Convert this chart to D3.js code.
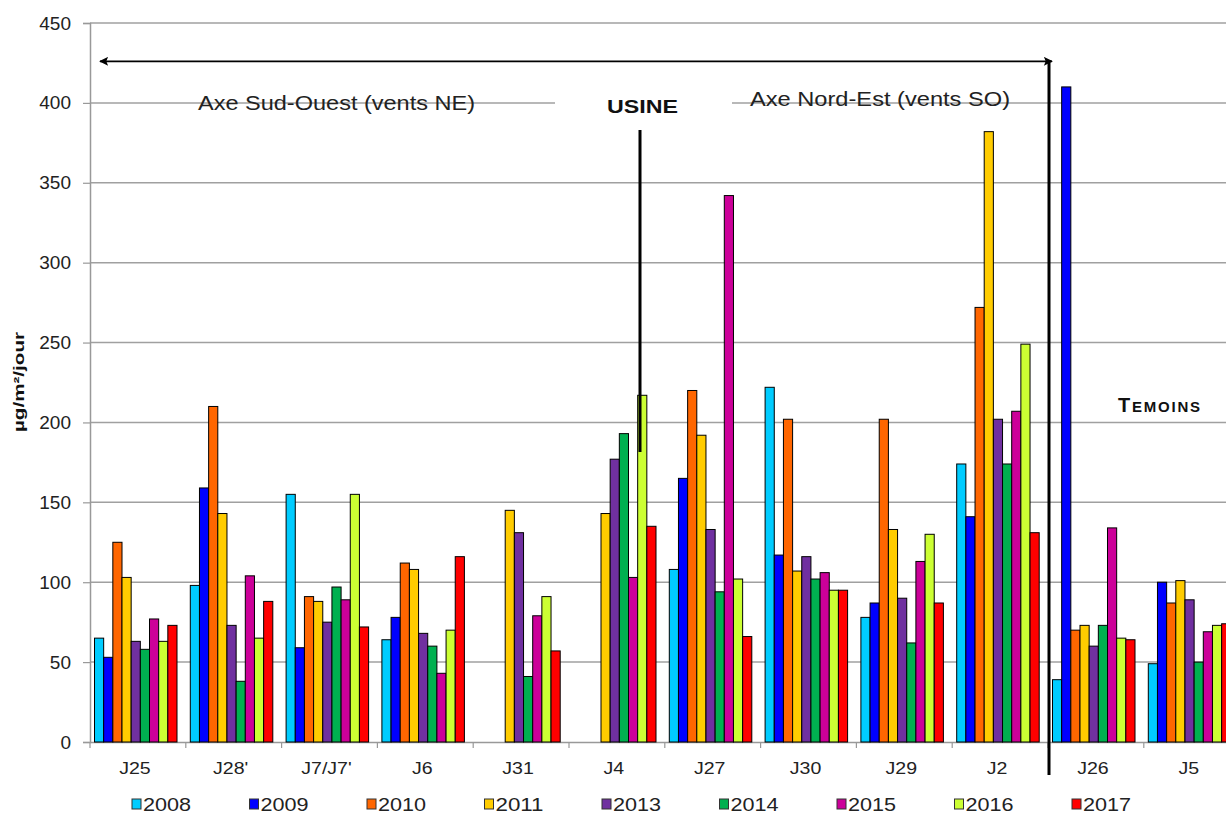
<!DOCTYPE html>
<html><head><meta charset="utf-8">
<script src="https://cdn.jsdelivr.net/npm/d3@7"></script>
<style>body{margin:0;background:#fff;overflow:hidden}svg{display:block}text{font-family:"Liberation Sans",Arial,sans-serif}</style>
</head><body><svg id="c" width="1226" height="814"></svg>
<script>
const categories = ["J25","J28'","J7/J7'","J6","J31","J4","J27","J30","J29","J2","J26","J5"];
const years = ["2008","2009","2010","2011","2013","2014","2015","2016","2017"];
const colors = ["#00CCFF","#0000FF","#FF6600","#FFCC00","#7030A0","#00B050","#CC0099","#CCFF33","#FF0000"];
const v2008 = [65, 98, 155, 64, null, null, 108, 222, 78, 174, 39, 49];
const v2009 = [53, 159, 59, 78, null, null, 165, 117, 87, 141, 410, 100];
const v2010 = [125, 210, 91, 112, null, null, 220, 202, 202, 272, 70, 87];
const v2011 = [103, 143, 88, 108, 145, 143, 192, 107, 133, 382, 73, 101];
const v2013 = [63, 73, 75, 68, 131, 177, 133, 116, 90, 202, 60, 89];
const v2014 = [58, 38, 97, 60, 41, 193, 94, 102, 62, 174, 73, 50];
const v2015 = [77, 104, 89, 43, 79, 103, 342, 106, 113, 207, 134, 69];
const v2016 = [63, 65, 155, 70, 91, 217, 102, 95, 130, 249, 65, 73];
const v2017 = [73, 88, 72, 116, 57, 135, 66, 95, 87, 131, 64, 74];
const series = [v2008,v2009,v2010,v2011,v2013,v2014,v2015,v2016,v2017];
const yTicks = [0,50,100,150,200,250,300,350,400,450];

const svg = d3.select("#c");
const plotLeft = 90, plotBottom = 742, plotTop = 23, groupW = 95.8;
const x0 = d3.scaleBand().domain(categories).range([plotLeft, plotLeft + groupW*categories.length]).padding(0);
const x1 = d3.scaleBand().domain(years).range([4.5, 87]).padding(0);
const y = d3.scaleLinear().domain([0,450]).range([plotBottom, plotTop]);

// gridlines
svg.append("g").selectAll("line").data(yTicks.filter(d=>d>0)).join("line")
  .attr("x1", plotLeft).attr("x2", 1226).attr("y1", d=>y(d)).attr("y2", d=>y(d))
  .attr("stroke","#a0a0a0").attr("stroke-width",1.5);

// y axis
const ya = svg.append("g").attr("transform",`translate(${plotLeft},0)`)
  .call(d3.axisLeft(y).tickValues(yTicks).tickSize(7).tickPadding(12));
ya.select(".domain").attr("stroke","#999").attr("stroke-width",1.5);
ya.selectAll(".tick line").attr("stroke","#999").attr("stroke-width",1.2);
ya.selectAll(".tick text").attr("font-size",19).attr("fill","#222").attr("font-family","Liberation Sans, Arial, sans-serif");

// x axis
const xa = svg.append("g").attr("transform",`translate(0,${plotBottom})`)
  .call(d3.axisBottom(x0).tickSize(0).tickPadding(20));
xa.select(".domain").attr("stroke","#999").attr("stroke-width",1.5);
xa.selectAll(".tick text").attr("font-size",17).attr("fill","#222").attr("font-family","Liberation Sans, Arial, sans-serif")
  .attr("transform","translate(-3,0) scale(1.15,1)");
svg.append("g").selectAll("line").data(d3.range(categories.length+1)).join("line")
  .attr("x1", i=>plotLeft+i*groupW).attr("x2", i=>plotLeft+i*groupW)
  .attr("y1", plotBottom).attr("y2", plotBottom+6).attr("stroke","#999").attr("stroke-width",1.2);

// white box behind USINE
svg.append("rect").attr("x",555).attr("y",y(405)).attr("width",177).attr("height",14).attr("fill","#fff");

// bars
const g = svg.append("g");
series.forEach((vals, si) => {
  g.append("g").selectAll("rect").data(categories.map((c,i)=>({c, v: vals[i]})).filter(d=>d.v!=null)).join("rect")
    .attr("x", d=>x0(d.c)+x1(years[si]))
    .attr("width", x1.bandwidth())
    .attr("y", d=>y(d.v))
    .attr("height", d=>y(0)-y(d.v))
    .attr("fill", colors[si]).attr("stroke","#000").attr("stroke-width",1);
});

// arrow
const defs = svg.append("defs");
defs.append("marker").attr("id","ah").attr("viewBox","0 0 10 10").attr("refX",9).attr("refY",5)
  .attr("markerWidth",12).attr("markerHeight",9).attr("markerUnits","userSpaceOnUse").attr("orient","auto-start-reverse")
  .append("path").attr("d","M0,0 L10,5 L0,10 L2,5 z").attr("fill","#000");
svg.append("line").attr("x1",100).attr("x2",1052).attr("y1",y(426)).attr("y2",y(426))
  .attr("stroke","#000").attr("stroke-width",1.8).attr("marker-start","url(#ah)").attr("marker-end","url(#ah)");

// divider
svg.append("line").attr("x1",1049).attr("x2",1049).attr("y1",y(426)-1).attr("y2",775).attr("stroke","#000").attr("stroke-width",3);
// usine line
svg.append("line").attr("x1",640).attr("x2",640).attr("y1",130).attr("y2",452).attr("stroke","#000").attr("stroke-width",3);

// texts
svg.append("text").attr("x",198).attr("y",110).attr("font-size",20).attr("fill","#222")
  .attr("textLength",277).attr("lengthAdjust","spacingAndGlyphs").text("Axe Sud-Ouest (vents NE)");
svg.append("text").attr("x",750).attr("y",106).attr("font-size",20).attr("fill","#222")
  .attr("textLength",260).attr("lengthAdjust","spacingAndGlyphs").text("Axe Nord-Est (vents SO)");
svg.append("text").attr("x",607).attr("y",113).attr("font-size",19).attr("font-weight","bold").attr("fill","#111")
  .attr("textLength",71).attr("lengthAdjust","spacingAndGlyphs").text("USINE");
const t = svg.append("text").attr("x",1118).attr("y",412).attr("font-weight","bold").attr("fill","#111")
  .attr("textLength",82).attr("lengthAdjust","spacing");
t.append("tspan").attr("font-size",20).text("T");
t.append("tspan").attr("font-size",15).text("EMOINS");

// y label
svg.append("text").attr("transform","translate(24,382) rotate(-90)").attr("text-anchor","middle")
  .attr("font-size",15).attr("font-weight","bold").attr("fill","#111")
  .attr("textLength",100).attr("lengthAdjust","spacingAndGlyphs").text("µg/m²/jour");

// legend
const lg = svg.append("g").selectAll("g").data(years).join("g")
  .attr("transform",(d,i)=>`translate(${132+i*117.5},811)`);
lg.append("rect").attr("x",0).attr("y",-12).attr("width",9).attr("height",10)
  .attr("fill",(d,i)=>colors[i]).attr("stroke","#333").attr("stroke-width",1);
lg.append("text").attr("x",11).attr("y",0).attr("font-size",19).attr("fill","#222")
  .attr("textLength",48).attr("lengthAdjust","spacingAndGlyphs").text(d=>d);
</script></body></html>
